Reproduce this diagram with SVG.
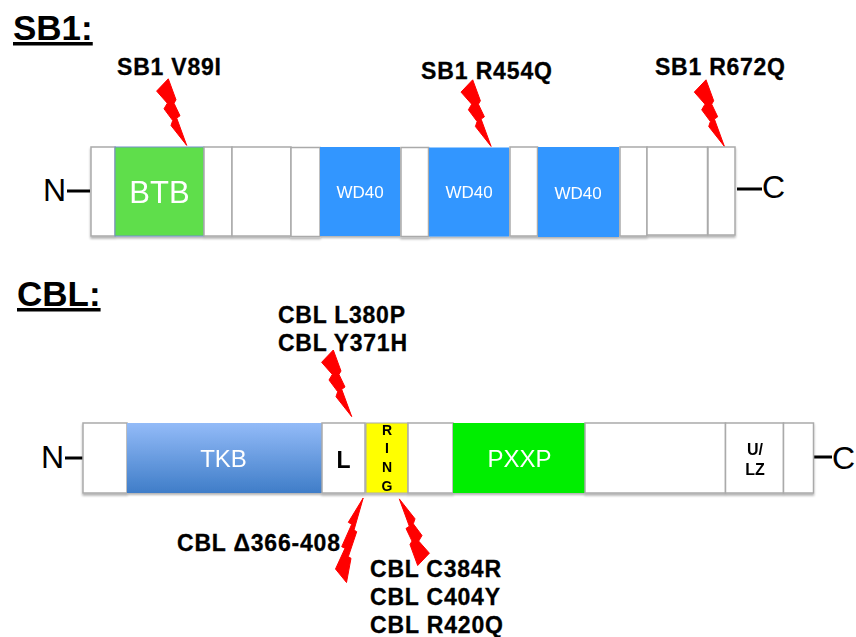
<svg xmlns="http://www.w3.org/2000/svg" width="856" height="637" viewBox="0 0 856 637">
<style>
text{font-family:"Liberation Sans",Arial,sans-serif;fill:#000}
.h{font-size:35px;font-weight:700}
.m{font-size:23px;font-weight:700;stroke:#000;stroke-width:.3}
.w{fill:#fff}
.e{font-size:32px}
.b{stroke:#aaa;stroke-width:1.5;fill:#fff}
.stem{stroke:#000;stroke-width:3;fill:none}
.r{font-size:14px;font-weight:700;text-anchor:middle}
.u{font-size:16px;font-weight:700;text-anchor:middle}
.z{fill:#ff0000;stroke:#ff0000;stroke-width:1;stroke-linejoin:round}
</style>
<defs>
<polygon id="bolt" class="z" points="0,0 7.7,21 5.7,24.4 11.7,37 8.4,39.3 18.4,66.6 2.7,46.7 4.4,41.7 -4.3,30 -1,24.4 -11.7,12.3"/>
<linearGradient id="tkb" x1="0" y1="0" x2="0" y2="1"><stop offset="0" stop-color="#93BBF8"/><stop offset="1" stop-color="#3F7DC8"/></linearGradient>
<filter id="sh" x="-5%" y="-5%" width="110%" height="115%"><feDropShadow dx="0" dy="2" stdDeviation="1.2" flood-color="#000" flood-opacity=".3"/></filter>
</defs>
<g id="titles">
<text class="h" x="13" y="40" text-decoration="underline">SB1:</text>
<text class="h" x="17" y="306" text-decoration="underline">CBL:</text>
</g>
<g id="connectors">
<path class="stem" d="M67 191H90M737 189H762M65 458H83M813 457H832"/>
<use href="#bolt" x="168.3" y="78.8"/>
<use href="#bolt" x="472.7" y="79.8"/>
<use href="#bolt" x="706" y="79.8"/>
<use href="#bolt" x="333.3" y="350"/>
<use href="#bolt" transform="translate(417.7 565.500) rotate(180)"/>
<polygon class="z" points="363.2,498 348.3,522.3 351.7,524.3 341.7,546.7 345,548.3 335.500,569 346.5,582.500 351,558.3 348.3,556.7 356.7,531.7 354,530"/>
</g>
<g id="sb1-protein" filter="url(#sh)">
<g id="sb1-seg1"><rect class="b" x="91" y="147" width="24" height="89"/></g>
<g id="sb1-btb"><rect x="115" y="147" width="89" height="89" fill="#5FDE4C" stroke="#7090C8" stroke-width="1"/><text class="w" x="159.500" y="203" font-size="31" text-anchor="middle">BTB</text></g>
<g id="sb1-seg2"><rect class="b" x="204" y="147" width="28" height="89"/></g>
<g id="sb1-seg3"><rect class="b" x="232" y="147" width="59" height="89"/></g>
<g id="sb1-seg4"><rect class="b" x="291" y="147.500" width="29" height="89"/></g>
<g id="sb1-wd1"><rect x="320" y="147" width="80" height="89" fill="#3396FF"/><text class="w" x="360" y="198" font-size="17" text-anchor="middle">WD40</text></g>
<g id="sb1-seg5"><rect class="b" x="401" y="147.500" width="27.500" height="89"/></g>
<g id="sb1-wd2"><rect x="429" y="147.500" width="80" height="89" fill="#3396FF"/><text class="w" x="469" y="198" font-size="17" text-anchor="middle">WD40</text></g>
<g id="sb1-seg6"><rect class="b" x="510" y="147" width="27.500" height="89"/></g>
<g id="sb1-wd3"><rect x="538" y="147" width="81" height="90" fill="#3396FF"/><text class="w" x="578" y="199" font-size="17" text-anchor="middle">WD40</text></g>
<g id="sb1-seg7"><rect class="b" x="620" y="147" width="27" height="89"/></g>
<g id="sb1-seg8"><rect class="b" x="647" y="147" width="60.500" height="88"/></g>
<g id="sb1-seg9"><rect class="b" x="708" y="147" width="27" height="88"/></g>
</g>
<g id="cbl-protein" filter="url(#sh)">
<g id="cbl-seg1"><rect class="b" x="83" y="423" width="44" height="70"/></g>
<g id="cbl-tkb"><rect x="127" y="423" width="195" height="70" fill="url(#tkb)"/><text class="w" x="223.500" y="467" font-size="24" text-anchor="middle">TKB</text></g>
<g id="cbl-l"><rect class="b" x="322" y="423" width="43" height="70"/><text x="343.500" y="468" font-size="23" font-weight="700" text-anchor="middle">L</text></g>
<g id="cbl-ring"><rect x="366" y="423" width="42" height="70" fill="#FFFF00" stroke="#aaa"/>
<text class="r" x="387" y="435">R</text><text class="r" x="387" y="453">I</text><text class="r" x="387" y="472">N</text><text class="r" x="387" y="491">G</text></g>
<g id="cbl-seg2"><rect class="b" x="408" y="423" width="45" height="70"/></g>
<g id="cbl-pxxp"><rect x="453" y="423" width="132" height="70" fill="#00EE00"/><text class="w" x="519.500" y="467" font-size="24" text-anchor="middle">PXXP</text></g>
<g id="cbl-seg3"><rect class="b" x="585" y="423" width="140.500" height="70"/></g>
<g id="cbl-ulz"><rect class="b" x="725.500" y="423" width="58" height="70"/><text class="u" x="755" y="455">U/</text><text class="u" x="755" y="475">LZ</text></g>
<g id="cbl-seg4"><rect class="b" x="783.500" y="423" width="30" height="70"/></g>
</g>
<g id="termini">
<text class="e" x="43" y="201">N</text>
<text class="e" x="762" y="198">C</text>
<text class="e" x="41" y="468">N</text>
<text class="e" x="832" y="469">C</text>
</g>
<g id="labels">
<text class="m" x="117" y="75" textLength="104">SB1 V89I</text>
<text class="m" x="421" y="79" textLength="131">SB1 R454Q</text>
<text class="m" x="655" y="75" textLength="130">SB1 R672Q</text>
<text class="m" x="278" y="323" textLength="127">CBL L380P</text>
<text class="m" x="278" y="351" textLength="129">CBL Y371H</text>
<text class="m" x="177" y="551" textLength="163">CBL Δ366-408</text>
<text class="m" x="370" y="577" textLength="131">CBL C384R</text>
<text class="m" x="370" y="605" textLength="130">CBL C404Y</text>
<text class="m" x="370" y="633" textLength="133">CBL R420Q</text>
</g>
</svg>
